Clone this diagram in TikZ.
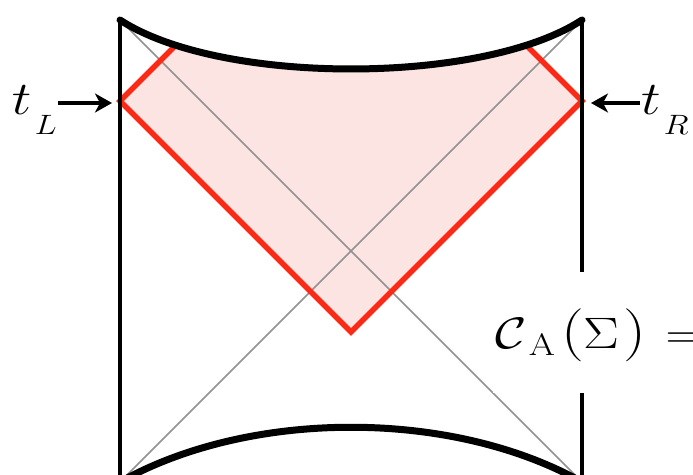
\documentclass[tikz,border=0pt]{standalone}
\usepackage{fix-cm}
\usepackage{graphicx}
\usetikzlibrary{arrows.meta}
\definecolor{redline}{RGB}{250,42,22}
\definecolor{pinkfill}{RGB}{252,228,226}
\definecolor{diaggray}{RGB}{145,145,145}
\tikzset{
  boundary/.style={line width=3.2pt, black},
  sing/.style={line width=7pt, black, line cap=round},
  wdw/.style={line width=5.5pt, redline, line join=miter},
  diagline/.style={line width=1.5pt, diaggray},
  arrowstyle/.style={line width=3.5pt, -{Stealth[length=17pt,width=19pt,inset=5pt]}},
  lbl/.style={inner sep=0pt, outer sep=0pt}
}
\newcommand{\mytlabel}[1]{\scalebox{1.17}[1]{\fontsize{47}{56}\selectfont$t$\kern3pt\raisebox{-20pt}{\fontsize{28}{34}\selectfont$#1$}}}
\newcommand{\myparen}[1]{{\fontsize{53}{60}\selectfont#1}}
\begin{document}
\begin{tikzpicture}[x=1pt,y=-1pt]
\useasboundingbox (0,0) rectangle (693,474);
\clip (0,0) rectangle (693,474);
% corners
\coordinate (TL) at (120,20);
\coordinate (TR) at (582,20);
\coordinate (BL) at (120,482);
\coordinate (BR) at (582,482);
\coordinate (tLpt) at (120,101);
\coordinate (tRpt) at (582,101);
\coordinate (bot) at (351,332);
\coordinate (cL) at (174.5,46.5);
\coordinate (cR) at (527.5,46.5);
% pink region
\begin{scope}
  \clip (TL) .. controls (220,85.3) and (482,85.3) .. (TR) -- (BR) -- (BL) -- cycle;
  \fill[pinkfill] (tLpt) -- (bot) -- (tRpt) -- (cR) -- (527.5,0) -- (174.5,0) -- (cL) -- cycle;
\end{scope}
% diagonals
\draw[diagline] (TL) -- (BR);
\draw[diagline] (TR) -- (BL);
% red boundary of WdW patch
\draw[wdw] (cL) -- (tLpt) -- (bot) -- (tRpt) -- (cR);
% boundaries
\draw[boundary] (TL) -- (BL);
\draw[boundary] (TR) -- (BR);
% singularities
\draw[sing] (TL) .. controls (220,85.3) and (482,85.3) .. (TR);
\draw[sing] (BL) .. controls (250,409) and (452,409) .. (BR);
% white box behind formula
\fill[white] (493,272) rectangle (700,393);
% formula
\node[lbl, anchor=base west] (ca) at (495,348) {\scalebox{1.22}[1]{\fontsize{44}{52}\selectfont
  $\mathcal{C}$\kern2pt\raisebox{-7pt}{\fontsize{31}{36}\selectfont A}\kern5.1pt\myparen{(}\kern-0.8pt$\Sigma$\kern3.7pt\myparen{)}\kern15.5pt$=$}};
% labels and arrows
\node[lbl, anchor=base west] (tL) at (12,114) {\mytlabel{L}};
\node[lbl, anchor=base west] (tR) at (641,114) {\mytlabel{R}};
\coordinate (tLtip) at (112,103);
\coordinate (tRtip) at (591,103);
\draw[arrowstyle] ([xshift=1pt]tL.east |- tLtip) -- (tLtip);
\draw[arrowstyle] ([xshift=-1pt]tR.west |- tRtip) -- (tRtip);
\end{tikzpicture}
\end{document}
